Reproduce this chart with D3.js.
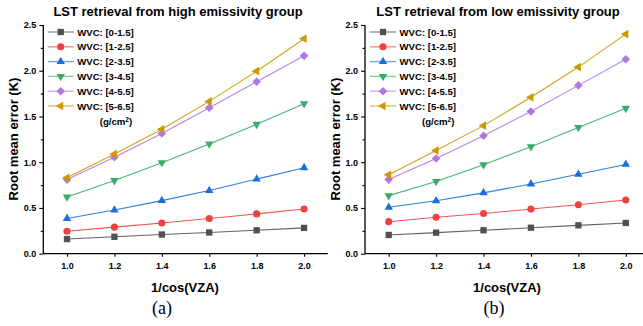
<!DOCTYPE html>
<html><head><meta charset="utf-8">
<script src="https://cdn.jsdelivr.net/npm/d3@7"></script>
<style>body{margin:0;background:#fff}svg{display:block}</style>
</head><body><svg id="c" width="643" height="326"></svg>
<script>
const xValues = [1.0, 1.2, 1.4, 1.6, 1.8, 2.0];
const seriesNames = ["WVC: [0-1.5]", "WVC: [1-2.5]", "WVC: [2-3.5]", "WVC: [3-4.5]", "WVC: [4-5.5]", "WVC: [5-6.5]"];
const seriesColors = ["#515151", "#F14040", "#1A6FDF", "#37AD6B", "#B177DE", "#CC9900"];
const highEmis = [
  [0.16, 0.185, 0.21, 0.232, 0.256, 0.282],
  [0.245, 0.29, 0.336, 0.385, 0.435, 0.489],
  [0.385, 0.477, 0.58, 0.69, 0.815, 0.94],
  [0.62, 0.80, 0.995, 1.20, 1.415, 1.64],
  [0.81, 1.055, 1.315, 1.595, 1.88, 2.163],
  [0.83, 1.09, 1.36, 1.665, 1.995, 2.35]
];
const lowEmis = [
  [0.205, 0.23, 0.256, 0.284, 0.31, 0.336],
  [0.35, 0.398, 0.44, 0.488, 0.535, 0.587],
  [0.507, 0.578, 0.665, 0.762, 0.868, 0.976],
  [0.635, 0.79, 0.973, 1.17, 1.38, 1.59],
  [0.81, 1.04, 1.29, 1.555, 1.84, 2.125],
  [0.862, 1.127, 1.40, 1.71, 2.04, 2.40]
];
const yTicks = [0.0, 0.5, 1.0, 1.5, 2.0, 2.5];
const xTicks = [1.0, 1.2, 1.4, 1.6, 1.8, 2.0];
const titles = ["LST retrieval from high emissivity group", "LST retrieval from low emissivity group"];
const panelLabels = ["(a)", "(b)"];

const svg = d3.select("#c");
const font = "Arial, 'Liberation Sans', sans-serif";

function marker(g, i, x, y) {
  const col = seriesColors[i];
  const spec = [
    [d3.symbolSquare, 0, 40],
    [d3.symbolCircle, 0, 40],
    [d3.symbolTriangle, 0, 31],
    [d3.symbolTriangle, 180, 31],
    [d3.symbolSquare, 45, 37],
    [d3.symbolTriangle, -90, 33]
  ][i];
  g.append("path")
    .attr("d", d3.symbol().type(spec[0]).size(spec[2])())
    .attr("transform", `translate(${x},${y}) rotate(${spec[1]})`)
    .attr("fill", col);
}

function panel(p) {
  const L = p.left, top = 25, bottom = 253.7;
  const x = d3.scaleLinear().domain([0.9, 2.1]).range([L, L + 284.5]);
  const y = d3.scaleLinear().domain([0, 2.5]).range([bottom, top]);
  const g = svg.append("g");

  p.data.forEach((vals, i) => {
    const pts = xValues.map((xv, j) => [xv, vals[j]]);
    g.append("path")
      .attr("d", d3.line().x(d => x(d[0])).y(d => y(d[1]))(pts))
      .attr("fill", "none").attr("stroke", seriesColors[i]).attr("stroke-width", 1.1).attr("opacity", 0.9);
  });
  p.data.forEach((vals, i) => {
    xValues.forEach((xv, j) => marker(g, i, x(xv), y(vals[j])));
  });

  const ya = g.append("g").attr("transform", `translate(${L},0)`)
    .call(d3.axisLeft(y).tickValues(yTicks).tickFormat(d3.format(".1f")).tickSize(4).tickPadding(3));
  g.append("g").attr("transform", `translate(${L},0)`)
    .call(d3.axisLeft(y).tickValues(d3.range(0.25, 2.5, 0.5)).tickFormat("").tickSize(2.5))
    .select(".domain").remove();
  const xa = g.append("g").attr("transform", `translate(0,${bottom})`)
    .call(d3.axisBottom(x).tickValues(xTicks).tickFormat(d3.format(".1f")).tickSize(3).tickPadding(6));
  g.selectAll(".domain").attr("stroke-width", 1.3);
  ya.select(".domain").attr("d", `M0,${top}V${bottom}`);
  xa.select(".domain").attr("d", `M${L},0H${L + 284.5}`);
  g.selectAll(".tick line").attr("stroke-width", 1.1);
  g.selectAll(".tick text").attr("font-family", font).attr("font-size", 9).attr("font-weight", "bold").attr("fill", "#000");

  svg.append("text").attr("x", p.titleX).attr("y", 16).attr("text-anchor", "middle")
    .attr("font-family", font).attr("font-size", 13).attr("font-weight", "bold").text(p.title);
  svg.append("text").attr("transform", `translate(${p.ylabX},${139}) rotate(-90)`).attr("text-anchor", "middle")
    .attr("font-family", font).attr("font-size", 13).attr("font-weight", "bold").text("Root mean error (K)");
  svg.append("text").attr("x", p.xlabX).attr("y", 292).attr("text-anchor", "middle")
    .attr("font-family", font).attr("font-size", 13).attr("font-weight", "bold").text("1/cos(VZA)");
  svg.append("text").attr("x", p.plX).attr("y", 314).attr("text-anchor", "middle")
    .attr("font-family", "'Liberation Serif', 'Times New Roman', serif").attr("font-size", 18).text(p.pl);

  const lx = p.legX;
  seriesNames.forEach((nm, i) => {
    const ly = 32 + i * 14.8;
    svg.append("line").attr("x1", lx).attr("x2", lx + 26).attr("y1", ly).attr("y2", ly)
      .attr("stroke", seriesColors[i]).attr("stroke-width", 1.4).attr("opacity", 0.6);
    marker(svg, i, lx + 13, ly);
    svg.append("text").attr("x", lx + 29.5).attr("y", ly + 3.5)
      .attr("font-family", font).attr("font-size", 9.6).attr("font-weight", "bold").text(nm);
  });
  const gt = svg.append("text").attr("x", lx + 52).attr("y", 125)
    .attr("font-family", font).attr("font-size", 9.6).attr("font-weight", "bold");
  gt.append("tspan").text("(g/cm");
  gt.append("tspan").attr("font-size", 6.5).attr("dy", -3.5).text("2");
  gt.append("tspan").attr("dy", 3.5).text(")");
}

panel({left: 43.3, data: highEmis, title: titles[0], titleX: 178, ylabX: 18, xlabX: 185, plX: 162, pl: panelLabels[0], legX: 47.7});
panel({left: 365, data: lowEmis, title: titles[1], titleX: 498, ylabX: 339.5, xlabX: 507, plX: 494, pl: panelLabels[1], legX: 370});
</script></body></html>
